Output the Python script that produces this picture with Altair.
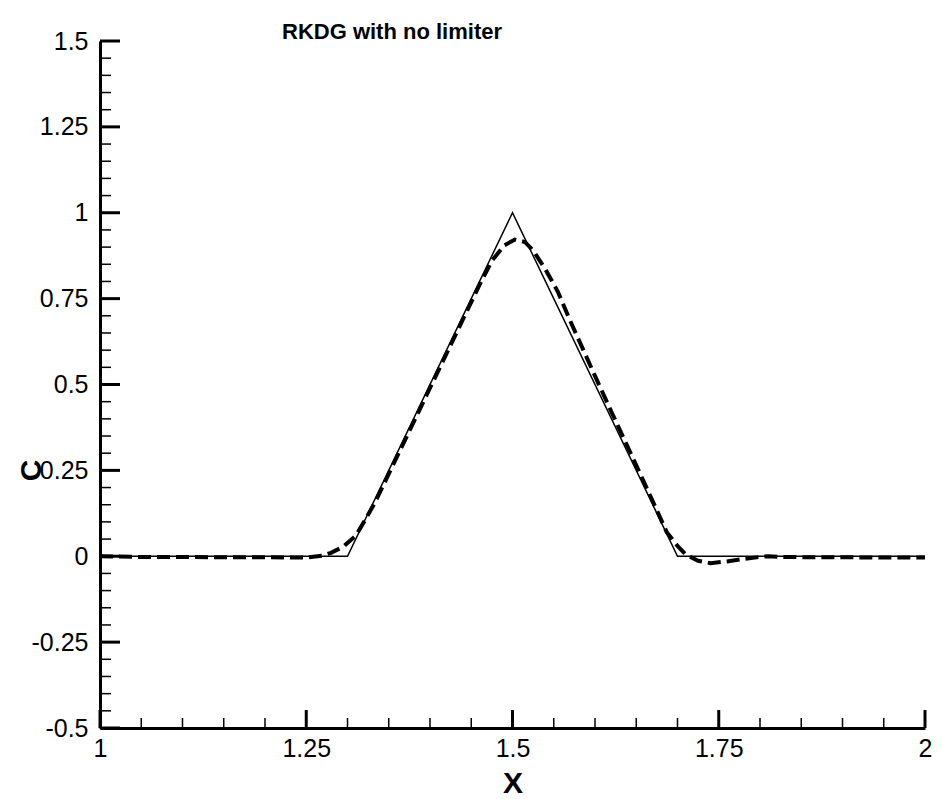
import altair as alt
import pandas as pd

# exact solution (solid)
exact_x = [1.0, 1.3, 1.5, 1.7, 2.0]
exact_c = [0.0, 0.0, 1.0, 0.0, 0.0]

# RKDG with no limiter (dashed)
rkdg_x = [1.00, 1.05, 1.10, 1.15, 1.20, 1.25, 1.27, 1.28, 1.295, 1.31, 1.32, 1.333,
          1.343, 1.36, 1.38, 1.40, 1.42, 1.44, 1.46, 1.475, 1.49, 1.503, 1.515,
          1.525, 1.54, 1.555, 1.57, 1.60, 1.62, 1.65, 1.67, 1.687, 1.70, 1.71,
          1.725, 1.74, 1.76, 1.78, 1.80, 1.81, 1.83, 1.86, 1.90, 1.95, 2.00]
rkdg_c = [0.0, -0.002, -0.002, -0.003, -0.003, -0.004, 0.002, 0.01, 0.028, 0.06, 0.10,
          0.155, 0.205, 0.29, 0.39, 0.49, 0.59, 0.69, 0.79, 0.86, 0.905, 0.922, 0.915,
          0.89, 0.835, 0.77, 0.685, 0.525, 0.42, 0.265, 0.16, 0.07, 0.03, 0.005,
          -0.013, -0.02, -0.015, -0.008, -0.002, 0.0, -0.002, -0.003, -0.003, -0.004,
          -0.004]

# axis ticks
x_major = [1.0, 1.25, 1.5, 1.75, 2.0]
y_major = [-0.5, -0.25, 0.0, 0.25, 0.5, 0.75, 1.0, 1.25, 1.5]
x_minor = [round(1 + 0.05 * i, 2) for i in range(21) if i % 5]
y_minor = [round(-0.5 + 0.05 * i, 2) for i in range(41) if i % 5]

W, H = 825, 687
FONT = "Liberation Sans"

xs = alt.Scale(domain=[1, 2], nice=False, zero=False)
ys = alt.Scale(domain=[-0.5, 1.5], nice=False, zero=False)

exact_df = pd.DataFrame({"x": exact_x, "c": exact_c})
rkdg_df = pd.DataFrame({"x": rkdg_x, "c": rkdg_c})

x_axis = alt.Axis(values=x_major, labelExpr="datum.value + ''",
                  ticks=False, grid=False, domainColor="black", domainWidth=3,
                  labelFont=FONT, labelFontSize=25, labelColor="black", labelPadding=8,
                  labelFlush=False,
                  title="X", titleFont=FONT, titleFontSize=30, titleFontWeight="bold",
                  titleColor="black", titleBaseline="alphabetic", titleY=64,
                  titleX=W / 2, titleAlign="center")
y_axis = alt.Axis(values=y_major, labelExpr="datum.value + ''",
                  ticks=False, grid=False, domainColor="black", domainWidth=3,
                  labelFont=FONT, labelFontSize=25, labelColor="black", labelPadding=12,
                  labelFlush=False,
                  title="C", titleFont=FONT, titleFontSize=30, titleFontWeight="bold",
                  titleColor="black", titleAngle=-90, titleBaseline="middle",
                  titleAlign="center", titleX=-69, titleY=429)

X = lambda f: alt.X(f, type="quantitative", scale=xs, axis=x_axis)
Y = lambda f: alt.Y(f, type="quantitative", scale=ys, axis=y_axis)

exact = alt.Chart(exact_df).mark_line(color="black", strokeWidth=1.5).encode(
    x=X("x"), y=Y("c"))
rkdg = alt.Chart(rkdg_df).mark_line(color="black", strokeWidth=4,
                                    strokeDash=[13, 6]).encode(
    x=X("x"), y=Y("c"))

ymaj = alt.Chart(pd.DataFrame({"v": y_major})).mark_rule(color="black", strokeWidth=3).encode(
    y=Y("v"), x=alt.value(0), x2=alt.value(20))
ymin = alt.Chart(pd.DataFrame({"v": y_minor})).mark_rule(color="black", strokeWidth=1.5).encode(
    y=Y("v"), x=alt.value(0), x2=alt.value(11))
xmaj = alt.Chart(pd.DataFrame({"v": x_major})).mark_rule(color="black", strokeWidth=3).encode(
    x=X("v"), y=alt.value(H), y2=alt.value(H - 18))
xmin = alt.Chart(pd.DataFrame({"v": x_minor})).mark_rule(color="black", strokeWidth=1.5).encode(
    x=X("v"), y=alt.value(H), y2=alt.value(H - 10))

chart = alt.layer(exact, rkdg, ymaj, ymin, xmaj, xmin).properties(
    width=W, height=H,
    background="white",
    title=alt.Title("RKDG with no limiter", anchor="start", dx=266, dy=35, font=FONT,
                    fontSize=22, fontWeight="bold", color="black",
                    baseline="alphabetic", offset=3),
    autosize=alt.AutoSizeParams(type="none"),
    padding={"left": 92, "top": 33, "right": 10, "bottom": 70},
).configure_view(strokeWidth=0)

chart.save("out.html", embed_options={"renderer": "svg", "actions": False})
